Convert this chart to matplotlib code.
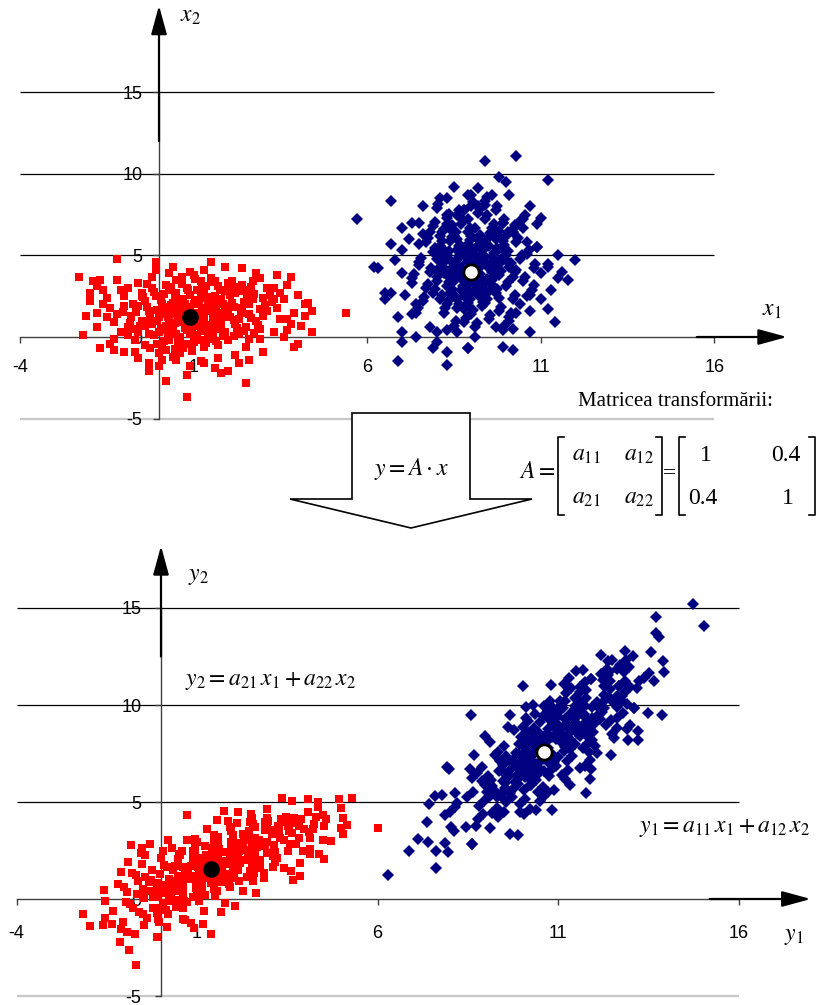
import numpy as np
import matplotlib
matplotlib.use('Agg')
import matplotlib.pyplot as plt
from matplotlib.patches import Polygon

plt.rcParams['font.family'] = ['Liberation Sans', 'DejaVu Sans']
plt.rcParams['mathtext.fontset'] = 'stix'
plt.rcParams['axes.unicode_minus'] = False

# puncte citite din graficul de sus (x1, x2)
red_pts = np.array([
    (0.9, 1.2), (1.1, 1.5), (0.7, 0.9), (1.3, 1.0), (0.5, 1.4), (1.0, 2.0), (0.8, 0.4), (1.5, 1.6), (0.3, 1.0), (1.2, 0.6),
    (0.6, 1.9), (1.7, 1.2), (0.2, 1.6), (1.4, 2.2), (0.9, 2.6), (0.4, 0.5), (1.8, 0.8), (1.1, 0.1), (0.0, 1.2), (2.0, 1.5),
    (0.7, 2.3), (1.6, 2.5), (0.1, 2.0), (1.3, 2.8), (0.5, 2.7), (2.1, 2.1), (-0.2, 0.8), (0.6, 0.0), (1.9, 0.3), (2.3, 1.1),
    (1.0, -0.3), (0.3, -0.2), (-0.3, 1.6), (2.4, 1.8), (1.5, -0.1), (0.8, 3.0), (-0.1, 2.5), (2.2, 2.7), (1.7, 3.1), (0.2, 3.2),
    (1.2, 3.4), (-0.4, 2.2), (2.6, 1.4), (2.5, 0.6), (-0.5, 1.0), (0.0, 0.3), (1.6, 0.5), (0.4, 2.1), (1.1, 1.1), (0.8, 1.6),
    (1.4, 0.3), (0.6, 1.2), (1.9, 1.9), (0.2, 0.7), (1.2, 2.4), (0.9, 0.2), (1.8, 2.3), (0.5, 3.5), (2.7, 2.3), (2.8, 1.0),
    (-0.6, 1.9), (-0.3, 0.2), (0.1, -0.5), (1.3, -0.6), (2.0, -0.2), (2.3, 0.2), (0.7, -0.7), (1.7, -0.5), (-0.7, 0.5), (2.9, 1.7),
    (1.0, 3.8), (0.3, 2.9), (1.5, 3.6), (2.0, 3.3), (-0.2, 3.0), (0.6, -1.0), (1.4, 1.9), (0.9, 1.7), (0.4, 1.7), (1.6, 1.0),
    (2.2, 0.8), (0.1, 1.4), (1.0, 0.7), (1.8, 1.5), (0.5, 0.2), (1.2, -0.2), (2.5, 2.9), (-0.8, 1.3), (3.0, 2.4), (2.6, -0.1),
    (0.0, -1.0), (1.1, 2.9), (0.8, -0.4), (1.9, 2.8), (2.4, 3.2), (-0.5, 2.7), (0.2, -0.8), (1.5, 0.7), (0.7, 1.0), (1.3, 1.3),
    (-1.2, 4.8), (-0.1, 4.6), (-2.3, 3.7), (-1.7, 3.5), (-1.2, 3.5), (-0.6, 3.3), (-1.8, 3.1), (-2.0, 2.7), (-2.0, 2.2), (-1.5, 2.4),
    (-1.1, 2.9), (-0.9, 3.0), (-0.5, 2.5), (-1.8, 1.5), (-1.4, 1.8), (-1.0, 1.9), (-0.8, 1.2), (-1.8, 0.6), (-1.3, 0.9), (-0.9, 0.6),
    (-0.4, 0.7), (-2.2, 0.1), (-1.3, -0.1), (-0.9, 0.1), (-0.6, 0.3), (-1.7, -0.7), (-1.3, -0.8), (-1.0, -0.9), (-0.7, -0.9), (-0.4, -0.5),
    (-0.3, -1.6), (-0.3, -2.1), (0.0, -1.8), (0.2, -2.7), (0.8, -2.3), (0.8, -3.7), (0.5, -1.4), (0.4, -1.2), (1.2, -1.5), (1.5, 4.6),
    (2.4, 4.2), (1.3, 4.1), (3.4, 3.8), (3.8, 3.7), (2.1, 3.4), (2.7, 3.4), (3.1, 3.0), (3.3, 3.0), (1.6, 3.4), (2.4, 2.8),
    (3.6, 2.3), (3.3, 2.3), (4.3, 2.1), (4.2, 2.0), (4.4, 1.6), (4.2, 1.3), (3.5, 1.1), (3.7, 1.1), (3.8, 0.8), (4.1, 0.7),
    (4.4, 0.3), (3.7, 0.4), (3.3, 0.3), (2.9, -0.1), (4.0, -0.4), (3.9, -0.6), (2.5, -0.6), (2.2, -1.1), (2.6, -1.4), (2.3, -1.6),
    (1.7, -1.3), (1.8, -2.2), (2.0, -2.1), (2.5, -2.8), (1.3, -1.6), (5.4, 1.5), (-0.1, 4.1), (0.4, 4.3), (0.9, 4.0), (2.8, 3.9),
    (3.1, 1.6), (3.4, 1.8), (2.9, 0.5), (3.2, 2.6), (-1.6, 2.9), (-0.2, 3.7), (0.3, 3.9), (1.9, 4.3), (2.6, 2.0), (3.0, 1.3),
    (0.95, 1.35), (1.15, 0.85), (0.65, 1.55), (1.35, 1.75), (0.45, 0.85), (1.05, 2.25), (0.75, 0.55), (1.55, 1.35), (0.25, 1.25), (1.25, 0.35),
    (0.55, 2.15), (1.65, 1.85), (0.15, 1.85), (1.45, 2.45), (0.85, 2.85), (0.35, 0.25), (1.75, 0.55), (1.05, -0.05), (-0.05, 0.95), (2.05, 1.25),
    (0.75, 2.05), (1.65, 2.15), (0.05, 2.25), (1.25, 2.65), (0.45, 2.45), (2.15, 1.85), (-0.25, 1.15), (0.55, -0.25), (1.85, 0.05), (2.35, 1.45),
    (0.95, -0.55), (0.25, 0.05), (-0.35, 1.85), (2.45, 2.15), (1.45, 0.05), (0.65, 3.25), (-0.15, 2.75), (2.05, 2.55), (1.75, 2.85), (0.35, 3.05),
    (1.35, 3.15), (-0.45, 2.45), (2.65, 1.15), (2.45, 0.35), (-0.55, 0.65), (0.05, 0.55), (1.55, 0.25), (0.35, 1.95), (1.15, 1.25), (0.85, 1.85),
    (1.45, 0.55), (0.55, 0.95), (1.95, 1.65), (0.15, 0.45), (1.15, 2.05), (0.95, 0.45), (1.85, 2.05), (0.65, 3.65), (2.75, 2.65), (2.85, 0.75),
    (-0.65, 1.55), (-0.15, 0.15), (0.15, -0.25), (1.35, -0.35), (2.15, 0.05), (2.25, 0.55), (0.75, -0.45), (1.65, -0.25), (-0.85, 0.85), (3.05, 1.95),
    (1.05, 3.55), (0.15, 2.65), (1.55, 3.35), (2.25, 3.05), (-0.35, 3.25), (0.45, -0.75), (1.25, 1.65), (0.75, 1.35), (0.45, 1.45), (1.75, 0.95),
    (2.15, 1.05), (-0.05, 1.65), (1.05, 0.95), (1.85, 1.25), (0.35, 0.65), (1.05, -0.15), (2.65, 3.05), (-1.05, 1.55), (3.25, 2.15), (2.75, 0.25),
    (-0.25, -0.65), (1.25, 3.0), (0.95, -0.85), (2.05, 2.95), (2.55, 2.5), (-0.75, 2.05), (-0.05, -0.45), (1.35, 0.75), (0.85, 1.05), (1.55, 1.15),
    (-1.5, 1.2), (-1.1, 0.3), (-1.6, 2.0), (-2.1, 1.3), (-1.4, -0.4), (-0.6, -1.3), (-1.9, 3.4), (-1.0, 2.5), (-0.7, -0.2), (-1.2, 1.4),
    (3.5, 2.7), (3.9, 1.5), (4.0, 2.6), (3.6, 0.0), (3.0, -0.9), (1.6, -1.9), (0.9, -1.8), (0.1, -1.4), (2.9, 3.6), (3.7, 3.2),
])

blue_pts = np.array([
    (9.0, 4.0), (8.7, 3.6), (9.3, 4.4), (8.9, 4.8), (9.4, 3.3), (8.5, 4.2), (9.6, 4.9), (9.1, 2.9), (8.6, 5.3), (9.8, 3.8),
    (8.3, 3.1), (9.2, 5.6), (8.8, 2.5), (9.7, 2.7), (8.2, 4.6), (9.9, 5.4), (8.4, 5.9), (9.5, 6.1), (8.0, 3.7), (10.1, 4.3),
    (8.9, 6.4), (9.3, 1.9), (8.1, 2.3), (10.0, 3.1), (8.6, 1.8), (9.6, 6.7), (7.9, 5.2), (10.3, 5.8), (8.7, 6.9), (9.0, 1.4),
    (7.8, 4.0), (10.2, 2.3), (8.4, 2.7), (9.4, 7.2), (8.1, 6.2), (10.4, 4.8), (7.7, 3.0), (9.8, 1.6), (8.9, 3.2), (9.1, 4.6),
    (8.8, 4.3), (9.2, 3.6), (8.5, 3.4), (9.5, 4.2), (8.3, 5.0), (9.7, 5.2), (8.7, 2.9), (9.3, 2.4), (8.9, 5.7), (9.6, 3.5),
    (8.0, 4.8), (10.0, 6.2), (8.4, 6.6), (9.2, 7.6), (8.6, 7.5), (9.9, 7.0), (8.2, 1.5), (9.5, 1.1), (8.8, 0.9), (10.1, 1.2),
    (7.6, 2.2), (7.5, 4.6), (7.7, 5.8), (10.5, 3.4), (10.6, 5.1), (10.2, 6.6), (7.9, 6.8), (8.3, 7.3), (9.0, 8.0), (9.7, 7.8),
    (9.1, 0.6), (8.5, 0.7), (9.9, 0.4), (7.4, 1.5), (7.3, 3.6), (10.7, 2.6), (10.8, 4.2), (10.5, 7.2), (8.0, 7.9), (9.4, 8.3),
    (8.8, 1.7), (9.4, 2.1), (8.2, 3.9), (9.8, 4.5), (8.6, 4.7), (9.0, 5.1), (9.3, 5.1), (8.7, 3.9), (9.1, 3.3), (8.4, 4.0),
    (9.6, 4.0), (8.9, 2.1), (9.2, 6.0), (8.5, 6.2), (9.7, 6.0), (8.1, 5.6), (10.0, 5.0), (8.3, 2.0), (10.2, 3.7), (7.9, 2.7),
    (10.4, 2.0), (7.6, 6.3), (10.9, 5.5), (8.9, 7.2), (9.5, 5.6), (9.1, 5.4), (8.7, 5.6), (9.3, 3.0), (8.6, 2.3), (9.8, 2.4),
    (5.7, 7.2), (6.7, 8.3), (8.1, 8.5), (8.3, 8.5), (8.9, 8.7), (7.6, 8.0), (8.3, 7.5), (8.8, 7.8), (7.3, 7.0), (7.5, 7.0),
    (7.0, 6.7), (7.8, 6.4), (8.2, 6.6), (7.2, 6.0), (6.7, 5.7), (7.5, 5.7), (7.0, 5.3), (6.8, 4.7), (9.4, 10.8), (10.3, 11.1),
    (11.2, 9.6), (9.2, 9.1), (9.0, 8.7), (9.6, 8.7), (10.1, 8.7), (8.8, 7.8), (9.2, 8.0), (9.4, 8.1), (10.7, 8.0), (11.0, 7.3),
    (10.9, 6.9), (9.9, 7.0), (10.4, 7.1), (10.5, 6.7), (10.2, 6.4), (10.6, 5.8), (10.9, 5.5), (11.5, 5.0), (12.0, 4.7), (11.2, 4.5),
    (6.3, 4.2), (7.0, 3.9), (7.3, 3.3), (6.5, 2.7), (6.7, 2.7), (6.5, 2.3), (7.4, 2.0), (7.3, 1.4), (6.9, 1.2), (7.8, 0.6),
    (8.0, 0.3), (8.3, 0.4), (8.6, 0.3), (7.0, 0.3), (7.4, 0.0), (7.0, -0.3), (8.0, -0.3), (7.9, -0.7), (8.3, -0.9), (8.9, -0.7),
    (6.9, -1.5), (8.3, -1.7), (11.2, 4.3), (11.0, 3.9), (11.5, 3.6), (11.8, 3.5), (11.3, 2.9), (10.6, 2.5), (11.0, 2.3),
    (11.2, 1.7), (10.7, 1.6), (10.3, 1.5), (11.4, 0.9), (10.1, 1.0), (10.2, 0.5), (9.7, 0.6), (10.7, 0.3), (9.1, 0.0), (8.9, -0.7),
    (9.9, -0.6), (10.2, -0.8), (6.2, 4.3), (7.5, 4.4), (7.1, 2.6), (10.8, 3.2), (11.6, 4.0), (10.0, 9.5), (9.8, 9.8), (8.5, 9.2),
    (9.05, 4.15), (8.75, 3.85), (9.35, 4.65), (8.95, 4.95), (9.45, 3.55), (8.55, 4.45), (9.65, 5.15), (9.15, 3.15), (8.65, 5.55), (9.85, 4.05),
    (8.35, 3.35), (9.25, 5.85), (8.85, 2.75), (9.75, 2.95), (8.25, 4.85), (9.95, 5.65), (8.45, 6.15), (9.55, 6.35), (8.05, 3.95), (10.15, 4.55),
    (8.95, 6.65), (9.35, 2.15), (8.15, 2.55), (10.05, 3.35), (8.65, 2.05), (9.65, 6.95), (7.95, 5.45), (10.35, 6.05), (8.75, 7.15), (9.05, 1.65),
    (7.85, 4.25), (10.25, 2.55), (8.45, 2.95), (9.45, 7.45), (8.15, 6.45), (10.45, 5.05), (7.75, 3.25), (9.85, 1.85), (8.95, 3.45), (9.15, 4.85),
    (8.85, 4.55), (9.25, 3.85), (8.55, 3.65), (9.55, 4.45), (8.35, 5.25), (9.75, 5.45), (8.75, 3.15), (9.35, 2.65), (8.95, 5.95), (9.65, 3.75),
    (8.05, 5.05), (10.05, 6.45), (8.45, 6.85), (9.25, 7.85), (8.65, 7.75), (9.95, 7.25), (8.25, 1.75), (9.55, 1.35), (8.85, 1.15), (10.15, 1.45),
    (7.65, 2.45), (7.55, 4.85), (7.75, 6.05), (10.55, 3.65), (10.65, 5.35), (10.25, 6.85), (7.95, 7.05), (8.35, 7.55), (9.05, 8.25), (9.75, 8.05),
    (9.15, 0.85), (8.55, 0.95), (9.95, 0.65), (7.45, 1.75), (7.35, 3.85), (10.75, 2.85), (10.85, 4.45), (10.55, 7.45), (8.05, 8.15), (9.45, 8.55),
    (8.85, 1.95), (9.45, 2.35), (8.25, 4.15), (9.85, 4.75), (8.65, 4.95), (9.05, 5.35), (9.35, 5.35), (8.75, 4.15), (9.15, 3.55), (8.45, 4.25),
    (9.65, 4.25), (8.95, 2.35), (9.25, 6.25), (8.55, 6.45), (9.75, 6.25), (8.15, 5.85), (10.05, 5.25), (8.35, 2.25), (10.25, 3.95), (7.95, 2.95),
    (8.9, 4.2), (9.2, 4.7), (8.6, 3.8), (9.4, 4.9), (8.8, 3.4), (9.1, 3.9), (8.4, 4.7), (9.7, 4.6), (8.7, 5.0), (9.3, 3.5),
    (9.0, 2.7), (8.8, 5.3), (9.2, 2.6), (9.4, 5.8), (8.6, 6.0), (9.0, 6.2), (8.2, 5.3), (9.9, 5.9), (8.1, 4.3), (10.0, 4.7),
    (8.4, 3.6), (9.6, 3.2), (8.9, 1.9), (9.1, 6.7), (8.0, 3.4), (10.3, 4.1), (9.5, 2.8), (8.5, 2.6), (9.8, 6.5), (8.3, 6.9),
])

# centrele celor doua clase
red_center = (0.9, 1.2)
blue_center = (9.0, 4.0)

# matricea transformarii
A = np.array([[1.0, 0.4],
              [0.4, 1.0]])

xticks = [-4, 1, 6, 11, 16]
yticks = [-5, 0, 5, 10, 15]

# y = A * x
red_y = red_pts @ A.T
blue_y = blue_pts @ A.T
red_center_y = A @ np.array(red_center)
blue_center_y = A @ np.array(blue_center)

W, H = 820, 1005
fig = plt.figure(figsize=(W / 100, H / 100), dpi=100)
fig.patch.set_facecolor('white')


def make_axes(x0, sx, y0, sy, xlim, ylim):
    left = x0 + xlim[0] * sx
    right = x0 + xlim[1] * sx
    top = y0 - ylim[1] * sy
    bottom = y0 - ylim[0] * sy
    ax = fig.add_axes([left / W, 1 - bottom / H, (right - left) / W, (bottom - top) / H])
    ax.set_xlim(*xlim)
    ax.set_ylim(*ylim)
    ax.patch.set_alpha(0)
    return ax


def style_axes(ax, xpad, ypad, xarrow, yarrow):
    for s in ['top', 'right']:
        ax.spines[s].set_visible(False)
    ax.spines['left'].set_position(('data', 0))
    ax.spines['bottom'].set_position(('data', 0))
    ax.spines['left'].set_bounds(-5, 15)
    ax.spines['bottom'].set_bounds(-4, 16)
    for s in ['left', 'bottom']:
        ax.spines[s].set_color('#404040')
        ax.spines[s].set_linewidth(1.0)
    ax.set_xticks(xticks)
    ax.set_yticks(yticks)
    ax.tick_params(axis='x', direction='out', length=4, width=1, color='#404040', pad=xpad, labelsize=13)
    ax.tick_params(axis='y', direction='out', length=4, width=1, color='#404040', pad=ypad, labelsize=13)
    # linii de grila
    ax.hlines([5, 10, 15], -4, 16, color='black', lw=0.9, zorder=1)
    ax.hlines([-5], -4, 16, color='#c8c8c8', lw=1.6, zorder=1)
    # sageti pe axe
    ap = dict(arrowstyle='-|>,head_length=1.1,head_width=0.3', color='black', lw=1.6,
              mutation_scale=16, shrinkA=0, shrinkB=0)
    ax.annotate('', xy=(xarrow[1], 0), xytext=(xarrow[0], 0), arrowprops=ap, annotation_clip=False)
    ax.annotate('', xy=(0, yarrow[1]), xytext=(0, yarrow[0]), arrowprops=ap, annotation_clip=False)


def draw_points(ax, red, blue, rc, bc):
    ax.plot(red[:, 0], red[:, 1], 's', color='#ff0000', ms=5.6, mew=0, zorder=3, clip_on=False)
    ax.plot(blue[:, 0], blue[:, 1], 'D', color='#000080', ms=6.3, mew=0, zorder=3, clip_on=False)
    ax.plot(rc[0], rc[1], 'o', color='black', ms=11, zorder=4)
    ax.plot(bc[0], bc[1], 'o', mfc='white', mec='black', mew=2, ms=11, zorder=4)


# graficul de sus
ax1 = make_axes(159, 34.7, 337, 16.33, (-4.55, 18.6), (-5.5, 20.5))
style_axes(ax1, 12, 8, (15.5, 18.1), (12.0, 20.3))
draw_points(ax1, red_pts, blue_pts, red_center, blue_center)

# graficul de jos
ax2 = make_axes(161, 36.1, 899, 19.4, (-4.4, 18.2), (-5.2, 18.4))
style_axes(ax2, 15, 10, (15.2, 18.0), (12.5, 18.2))
draw_points(ax2, red_y, blue_y, red_center_y, blue_center_y)

# strat pentru texte si sageata mare, in pixeli
ov = fig.add_axes([0, 0, 1, 1])
ov.set_xlim(0, W)
ov.set_ylim(H, 0)
ov.axis('off')
ov.patch.set_alpha(0)

serif = 'Liberation Serif'
ov.text(190, 16, r'$x_{\mathit{2}}$', fontsize=17, ha='center', va='center')
ov.text(772, 310, r'$x_{\mathit{1}}$', fontsize=17, ha='center', va='center')
ov.text(198, 576, r'$y_{\mathit{2}}$', fontsize=17, ha='center', va='center')
ov.text(794, 936, r'$y_{\mathit{1}}$', fontsize=17, ha='center', va='center')

ov.text(185, 681, r'$y_{\mathit{2}} = a_{\mathit{21}}\,x_{\mathit{1}} + a_{\mathit{22}}\,x_{\mathit{2}}$',
        fontsize=17, ha='left', va='center')
ov.text(810, 828, r'$y_{\mathit{1}} = a_{\mathit{11}}\,x_{\mathit{1}} + a_{\mathit{12}}\,x_{\mathit{2}}$',
        fontsize=17, ha='right', va='center')

# sageata mare
arrow = Polygon([(352, 413), (470, 413), (470, 499), (532, 499), (411, 528), (290, 499), (352, 499)],
                closed=True, facecolor='white', edgecolor='black', lw=1.2, zorder=5)
ov.add_patch(arrow)
ov.text(411, 469, r'$y = A\cdot x$', fontsize=17, ha='center', va='center', zorder=6)

# matricea
ov.text(676, 401, 'Matricea transformării:', family=serif, fontsize=15, ha='center', va='center')
ov.text(537, 472, r'$A =$', fontsize=17, ha='center', va='center')


def bracket(x, side):
    d = 6 if side == 'l' else -6
    ov.plot([x + d, x, x, x + d], [437, 437, 515, 515], color='black', lw=1.2)


bracket(558, 'l')
bracket(662, 'r')
bracket(679, 'l')
bracket(815, 'r')
ov.text(586, 455, r'$a_{11}$', fontsize=17, ha='center', va='center')
ov.text(639, 455, r'$a_{12}$', fontsize=17, ha='center', va='center')
ov.text(586, 498, r'$a_{21}$', fontsize=17, ha='center', va='center')
ov.text(639, 498, r'$a_{22}$', fontsize=17, ha='center', va='center')
ov.text(670, 474, '=', family=serif, fontsize=17, ha='center', va='center')
ov.text(706, 455, '1', family=serif, fontsize=17, ha='center', va='center')
ov.text(786, 455, '0.4', family=serif, fontsize=17, ha='center', va='center')
ov.text(703, 498, '0.4', family=serif, fontsize=17, ha='center', va='center')
ov.text(788, 498, '1', family=serif, fontsize=17, ha='center', va='center')

fig.savefig('out.png', dpi=100, facecolor='white')
